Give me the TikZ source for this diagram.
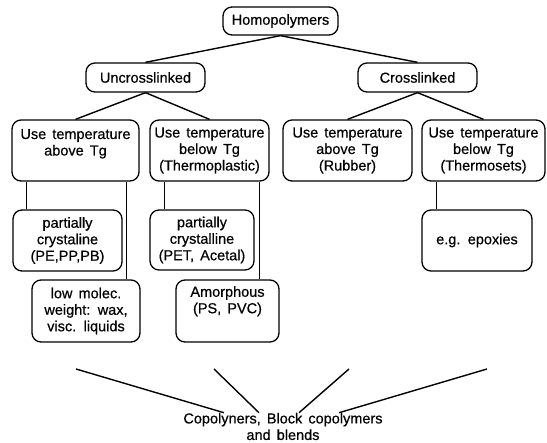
\documentclass[tikz,border=0pt]{standalone}
\usepackage{fontspec}
\setmainfont{Liberation Sans}
\newfontfamily\scanfont{Liberation Sans}[FakeBold=0.5]
\usepackage{tikz}
\newcommand{\boxfont}{\scanfont\fontsize{14.5}{16.5}\selectfont\spaceskip=.42em plus .1em\relax}
\tikzset{
    box/.style={draw, rounded corners=9pt, line width=1.3pt, align=center,
        inner sep=2pt, font=\boxfont},
    link/.style={line width=1.4pt}
}

\begin{document}
\begin{tikzpicture}[x=1pt, y=-1pt]

    \useasboundingbox (0, 0) rectangle (547, 443);

    \node[box, minimum width=115pt, minimum height=28pt] (homo) at (280.5, 21) {Homopolymers};
    \node[box, minimum width=119pt, minimum height=29pt] (uncross) at (145.5, 77.5) {Uncrosslinked};
    \node[box, minimum width=119pt, minimum height=29pt] (cross) at (417.5, 77.5) {Crosslinked};

    \node[box, minimum width=127pt, minimum height=61pt] (use1) at (75.5, 150.5)
        {Use temperature\\above Tg\\~};
    \node[box, minimum width=119pt, minimum height=61pt] (use2) at (209.5, 150.5)
        {Use temperature\\below Tg\\(Thermoplastic)};
    \node[box, minimum width=129pt, minimum height=61pt] (use3) at (347.5, 150.5)
        {Use temperature\\above Tg\\(Rubber)};
    \node[box, minimum width=123pt, minimum height=61pt] (use4) at (483.5, 150.5)
        {Use temperature\\below Tg\\(Thermosets)};

    \node[box, minimum width=109pt, minimum height=61pt] (pc1) at (67.5, 240.5)
        {partially\\crystaline\\(PE,PP,PB)};
    \node[box, minimum width=104pt, minimum height=60pt] (pc2) at (202, 240)
        {partially\\crystalline\\(PET, Acetal)};
    \node[box, minimum width=110pt, minimum height=61pt] (epox) at (477, 240.5)
        {e.g. epoxies};

    \node[box, minimum width=108pt, minimum height=62pt] (low) at (86, 311)
        {low molec.\\weight: wax,\\visc. liquids};
    \node[box, minimum width=103pt, minimum height=62pt] (amor) at (227.5, 311)
        {Amorphous\\(PS, PVC)\\[6pt]};

    \node[align=center, inner sep=0pt, font=\boxfont]
        (copo) at (283, 426.5) {Copolyners, Block copolymers\\and blends};

    \draw[link] (homo.south) -- (uncross.north);
    \draw[link] (homo.south) -- (cross.north);
    \draw[link] (uncross.south) -- (use1.north);
    \draw[link] (uncross.south) -- (use2.north);
    \draw[link] (cross.south) -- (use3.north);
    \draw[link] (cross.south) -- (use4.north);

    \coordinate (v1) at ([xshift=14pt]pc1.north west);
    \coordinate (v2) at ([xshift=-14pt]low.north east);
    \coordinate (v3) at ([xshift=15pt]pc2.north west);
    \coordinate (v4) at ([xshift=-20pt]amor.north east);
    \coordinate (v5) at ([xshift=15pt]epox.north west);
    \draw[link] (v1) -- (v1 |- use1.south);
    \draw[link] (v2) -- (v2 |- use1.south);
    \draw[link] (v3) -- (v3 |- use2.south);
    \draw[link] (v4) -- (v4 |- use2.south);
    \draw[link] (v5) -- (v5 |- use4.south);

    \coordinate (t1) at (76, 369);
    \coordinate (t2) at (214, 369);
    \coordinate (t3) at (349, 369);
    \coordinate (t4) at (487, 369);
    \coordinate (e1) at ([xshift=-59pt, yshift=0pt]copo.north);
    \coordinate (e2) at ([xshift=-24pt, yshift=0pt]copo.north);
    \coordinate (e3) at ([xshift=16pt, yshift=0pt]copo.north);
    \coordinate (e4) at ([xshift=56pt, yshift=0pt]copo.north);
    \draw[link] (t1) -- (e1);
    \draw[link] (t2) -- (e2);
    \draw[link] (t3) -- (e3);
    \draw[link] (t4) -- (e4);

\end{tikzpicture}
\end{document}
